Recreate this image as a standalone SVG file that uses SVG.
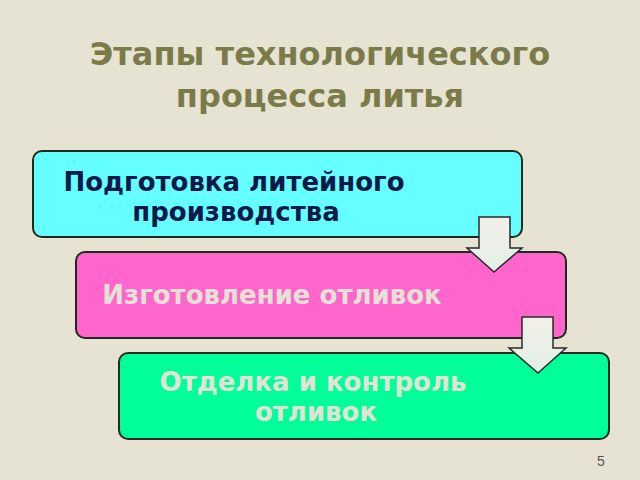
<svg xmlns="http://www.w3.org/2000/svg" width="640" height="480" viewBox="0 0 640 480">
<defs>
<style>
.box{stroke:#1f2a1f;stroke-width:2}
.t{font-family:"DejaVu Sans",Verdana,sans-serif;font-weight:bold;font-size:26px}
.title{font-family:"DejaVu Sans",Verdana,sans-serif;font-weight:bold;font-size:32px;fill:#7b7b4a;text-anchor:middle}
.arrow{fill:url(#ag);stroke:#2a2a2a;stroke-width:1.5;stroke-linejoin:miter}
</style>
<linearGradient id="ag" x1="0" y1="0" x2="0" y2="1">
<stop offset="0" stop-color="#f2efe8"/>
<stop offset="1" stop-color="#e2f0e6"/>
</linearGradient>
</defs>
<rect width="640" height="480" fill="#e6e3d3"/>
<g id="title">
<text class="title" x="320" y="65">Этапы технологического</text>
<text class="title" x="320" y="107">процесса литья</text>
</g>
<g id="node1">
<rect class="box" x="33" y="151" width="489" height="86" rx="9" fill="#66ffff"/>
<text class="t" fill="#0b1a4a" x="234" y="191" text-anchor="middle">Подготовка литейного</text>
<text class="t" fill="#0b1a4a" x="236" y="221" text-anchor="middle">производства</text>
</g>
<g id="node2">
<rect class="box" x="76" y="252" width="490" height="86" rx="9" fill="#ff66cc"/>
<text class="t" fill="#e4e2d4" x="272" y="304" text-anchor="middle">Изготовление отливок</text>
</g>
<g id="node3">
<rect class="box" x="119" y="353" width="490" height="86" rx="9" fill="#00ff99"/>
<text class="t" fill="#e4e2d4" x="313" y="391" text-anchor="middle">Отделка и контроль</text>
<text class="t" fill="#e4e2d4" x="316" y="421" text-anchor="middle">отливок</text>
</g>
<g id="connectors">
<polygon class="arrow" points="479,217 510,217 510,248 522,248 494,272 467,248 479,248"/>
<polygon class="arrow" points="522,317 553,317 553,348 566,348 538,373 509,348 522,348"/>
</g>
<text x="597" y="466" font-family="Liberation Sans,Arial,sans-serif" font-size="14" fill="#555">5</text>
</svg>
